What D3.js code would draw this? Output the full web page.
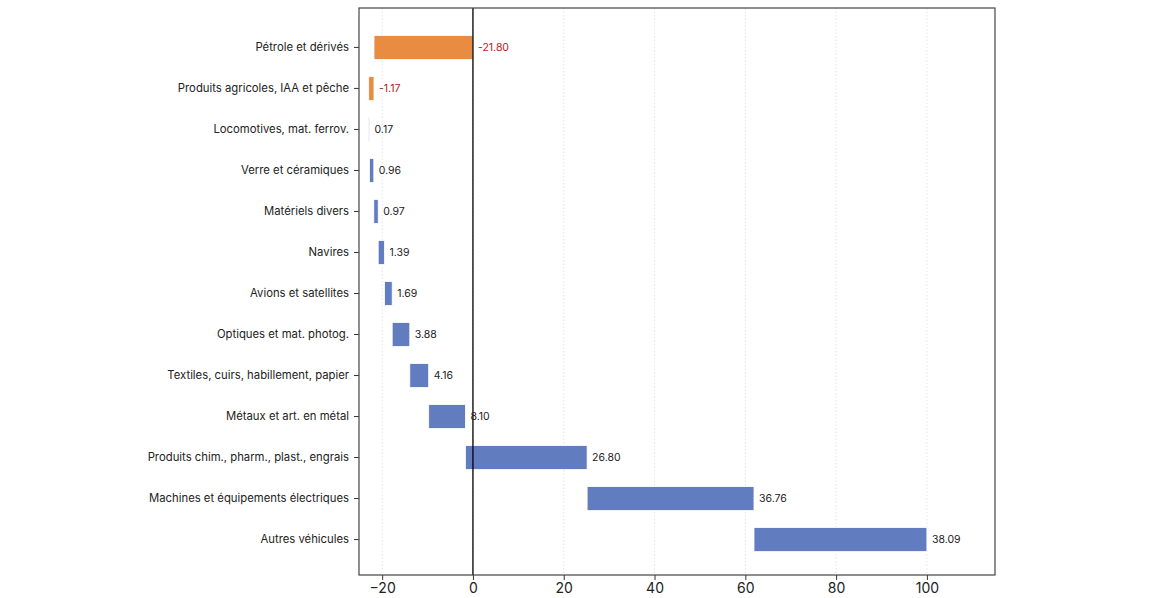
<!DOCTYPE html>
<html>
<head>
<meta charset="utf-8">
<script src="https://cdn.jsdelivr.net/npm/d3@7"></script>
<style>
	body { margin: 0; background: #fff; }
	text { font-family: Inter, "Open Sans", sans-serif; }
</style>
</head>
<body>
<div id="chart"></div>
<script>
	const categories = [
		'Pétrole et dérivés',
		'Produits agricoles, IAA et pêche',
		'Locomotives, mat. ferrov.',
		'Verre et céramiques',
		'Matériels divers',
		'Navires',
		'Avions et satellites',
		'Optiques et mat. photog.',
		'Textiles, cuirs, habillement, papier',
		'Métaux et art. en métal',
		'Produits chim., pharm., plast., engrais',
		'Machines et équipements électriques',
		'Autres véhicules',
	];
	const values = [-21.80, -1.17, 0.17, 0.96, 0.97, 1.39, 1.69, 3.88, 4.16, 8.10, 26.80, 36.76, 38.09];
	const xTicks = [-20, 0, 20, 40, 60, 80, 100];

	// cumulative start / end of each step
	let running = 0;
	const data = categories.map((c, i) => {
		const start = running;
		running += values[i];
		return { cat: c, value: values[i], start: start, end: running };
	});

	const width = 1156;
	const height = 598;
	const margin = { top: 8, right: 161, bottom: 23, left: 359 };

	const svg = d3.select('#chart').append('svg')
		.attr('width', width)
		.attr('height', height);

	const x = d3.scaleLinear()
		.domain([-25.1, 115])
		.range([margin.left, width - margin.right]);

	const y = d3.scaleBand()
		.domain(categories)
		.range([margin.top + 2, height - margin.bottom + 2])
		.paddingInner(0.415)
		.paddingOuter(0.62);

	// grid
	svg.append('g')
		.selectAll('line')
		.data(xTicks)
		.enter()
		.append('line')
		.attr('x1', d => x(d))
		.attr('x2', d => x(d))
		.attr('y1', margin.top)
		.attr('y2', height - margin.bottom)
		.style('stroke', '#ddd')
		.style('stroke-width', 0.8)
		.style('stroke-dasharray', '1.5,2');

	// bars
	svg.append('g')
		.selectAll('rect')
		.data(data)
		.enter()
		.append('rect')
		.attr('x', d => x(Math.min(d.start, d.end)))
		.attr('width', d => Math.abs(x(d.end) - x(d.start)))
		.attr('y', d => y(d.cat))
		.attr('height', y.bandwidth())
		.style('fill', d => d.value < 0 ? '#E88C42' : '#627CC0')
		.style('stroke', '#fff')
		.style('stroke-width', 0.8);

	// zero line
	svg.append('line')
		.attr('x1', x(0))
		.attr('x2', x(0))
		.attr('y1', margin.top)
		.attr('y2', height - margin.bottom)
		.style('stroke', '#000')
		.style('stroke-width', 1.3);

	// value labels
	svg.append('g')
		.selectAll('text')
		.data(data)
		.enter()
		.append('text')
		.attr('x', d => x(Math.max(d.start, d.end)) + 5)
		.attr('y', d => y(d.cat) + y.bandwidth() / 2)
		.attr('dy', '0.35em')
		.style('font-size', '10.5px')
		.style('fill', d => d.value < 0 ? '#B22222' : '#222')
		.text(d => d.value.toFixed(2));

	// axes
	const xAxis = svg.append('g')
		.attr('transform', `translate(0, ${height - margin.bottom})`)
		.call(d3.axisBottom(x).tickValues(xTicks).tickSize(5).tickPadding(3)
			.tickFormat(d => d < 0 ? '\u2212' + Math.abs(d) : d));
	xAxis.selectAll('text').style('font-size', '14px').style('fill', '#222');
	xAxis.select('.domain').remove();
	xAxis.selectAll('line').style('stroke', '#333');

	const yAxis = svg.append('g')
		.attr('transform', `translate(${margin.left}, 0)`)
		.call(d3.axisLeft(y).tickSize(5).tickPadding(5));
	yAxis.selectAll('text').style('font-size', '11.3px').style('fill', '#222');
	yAxis.select('.domain').remove();
	yAxis.selectAll('line').style('stroke', '#333');

	// frame
	svg.append('rect')
		.attr('x', margin.left)
		.attr('y', margin.top)
		.attr('width', width - margin.left - margin.right)
		.attr('height', height - margin.top - margin.bottom)
		.style('fill', 'none')
		.style('stroke', '#444')
		.style('stroke-width', 1.2);
</script>
</body>
</html>
